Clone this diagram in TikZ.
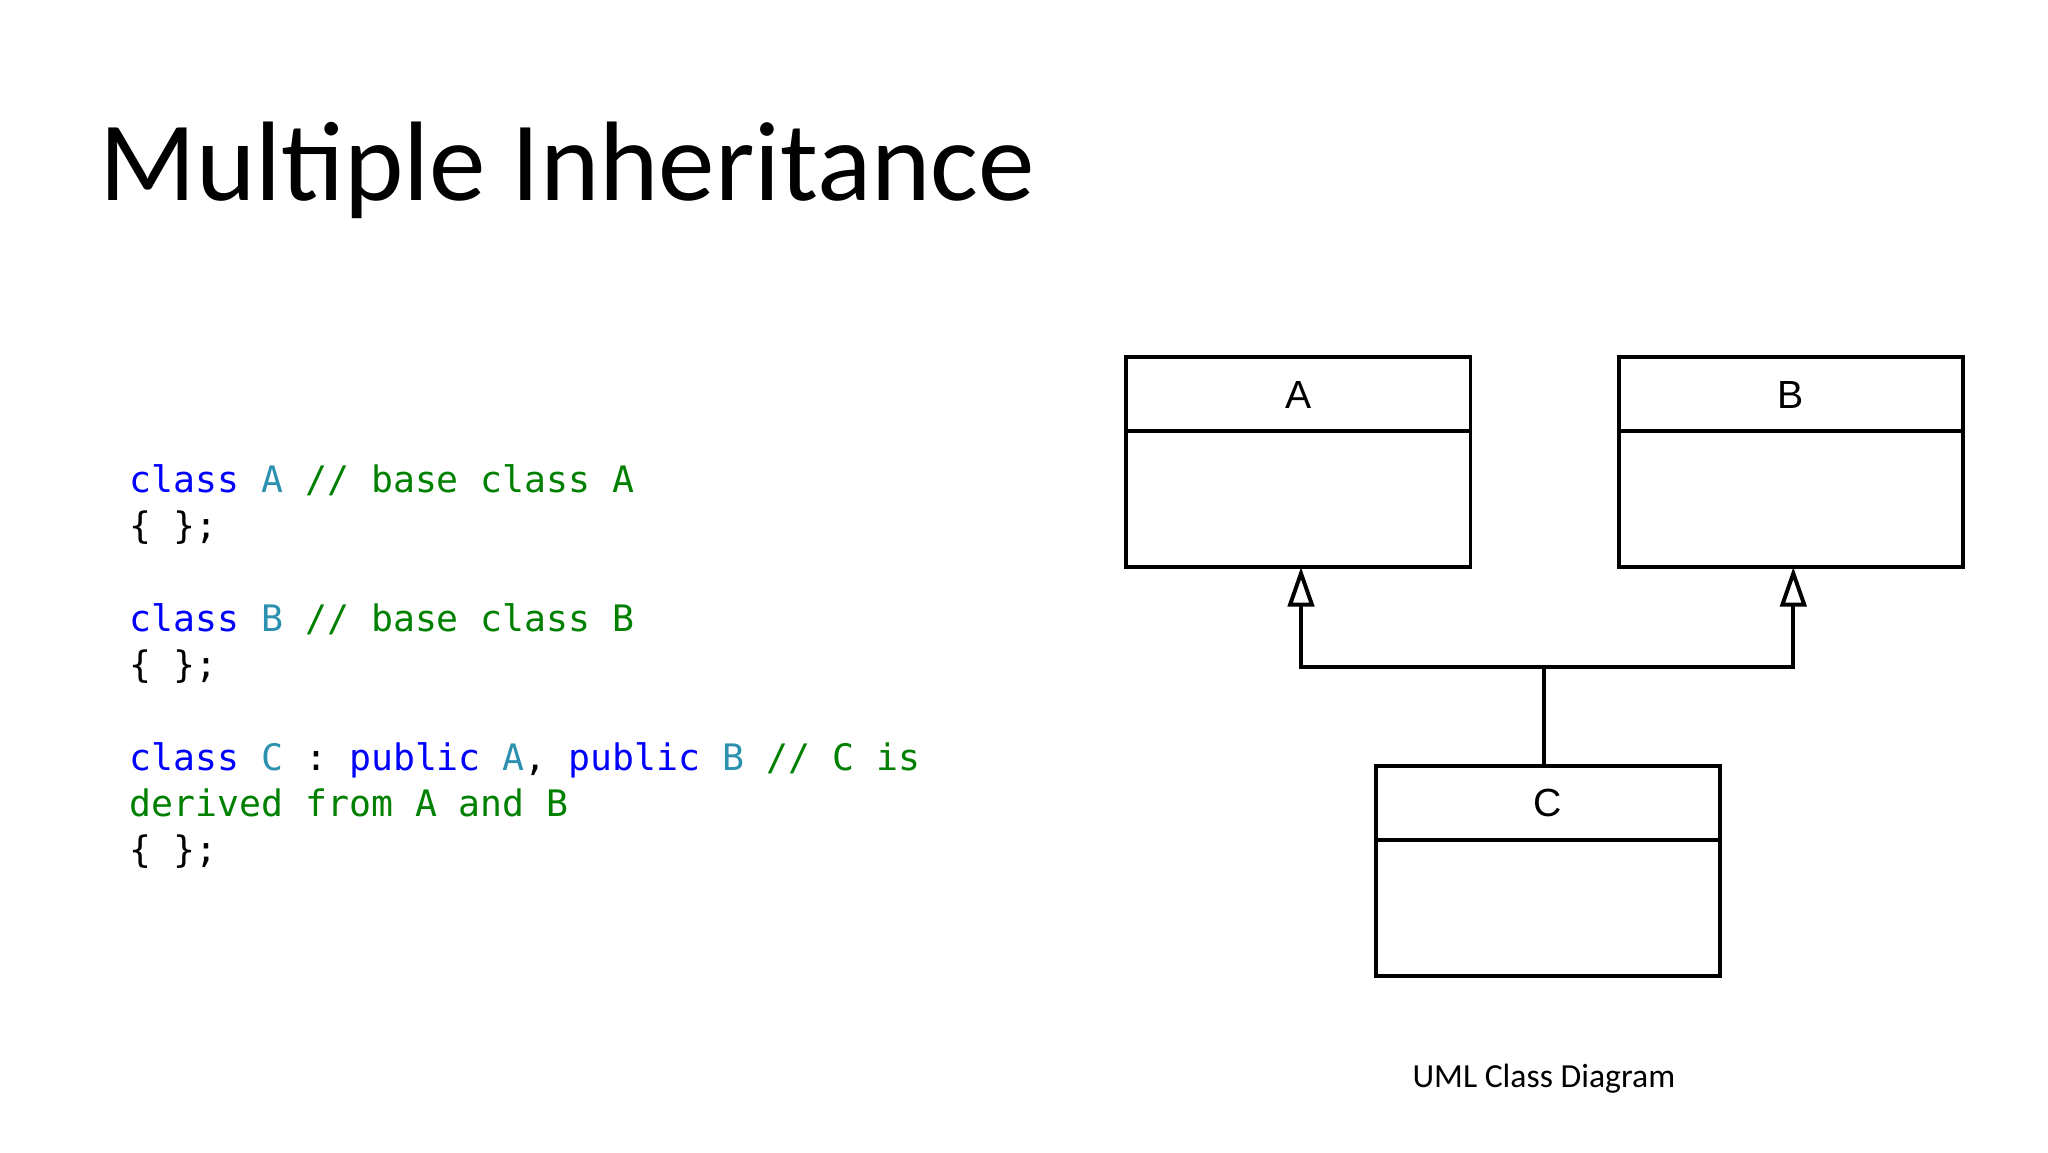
\documentclass[tikz,border=0pt]{standalone}
\usepackage{fontspec}
\setmainfont{Carlito}
\newfontfamily\codefont{DejaVu Sans Mono}
\newfontfamily\umlfont{Liberation Sans}
\usetikzlibrary{arrows.meta}
\definecolor{kw}{RGB}{0,0,255}
\definecolor{cn}{RGB}{43,145,175}
\definecolor{cm}{RGB}{0,128,0}
\tikzset{
  umlbox/.style={draw,line width=0.03cm,minimum width=2.62cm,minimum height=1.60cm,inner sep=0},
  codeline/.style={anchor=base west,inner sep=0,font=\codefont\fontsize{7.9}{9}\selectfont},
  inh/.style={line width=0.03cm,-{Triangle[open,length=0.3cm,width=0.2cm,line width=0.03cm]}}
}
\begin{document}
\begin{tikzpicture}[x=0.01cm,y=-0.01cm]
\useasboundingbox (0,0) rectangle (1560,877.5);
\node[anchor=base west,inner sep=0,font=\fontsize{24.5}{28}\selectfont] (title) at (75,153) {Multiple Inheritance};
\node[codeline] (l1) at (98,375) {\textcolor{kw}{class} \textcolor{cn}{A} \textcolor{cm}{// base class A}};
\node[codeline] (l2) at (98,410) {\{ \};};
\node[codeline] (l3) at (98,481) {\textcolor{kw}{class} \textcolor{cn}{B} \textcolor{cm}{// base class B}};
\node[codeline] (l4) at (98,516) {\{ \};};
\node[codeline] (l5) at (98,587) {\textcolor{kw}{class} \textcolor{cn}{C} : \textcolor{kw}{public} \textcolor{cn}{A}, \textcolor{kw}{public} \textcolor{cn}{B} \textcolor{cm}{// C is}};
\node[codeline] (l6) at (98,622) {\textcolor{cm}{derived from A and B}};
\node[codeline] (l7) at (98,657) {\{ \};};
\node[umlbox] (A) at (989,352) {};
\node[umlbox] (B) at (1364,352) {};
\node[umlbox] (C) at (1179,663.5) {};
\draw[line width=0.03cm] (858,328) -- (1120,328) (1233,328) -- (1495,328) (1048,640) -- (1310,640);
\node[font=\umlfont\fontsize{8.5}{10}\selectfont] (la) at (989,301) {A};
\node[font=\umlfont\fontsize{8.5}{10}\selectfont] (lb) at (1364,301) {B};
\node[font=\umlfont\fontsize{8.5}{10}\selectfont] (lc) at (1179,612) {C};
\coordinate (j) at (1176,508);
\draw[line width=0.03cm] (C.north -| j) -- (j);
\draw[inh] (j) -| (991,432);
\draw[inh] (j) -| (1366,432);
\node[font=\fontsize{7.3}{9}\selectfont] (cap) at (1176,822) {UML Class Diagram};
\end{tikzpicture}
\end{document}
